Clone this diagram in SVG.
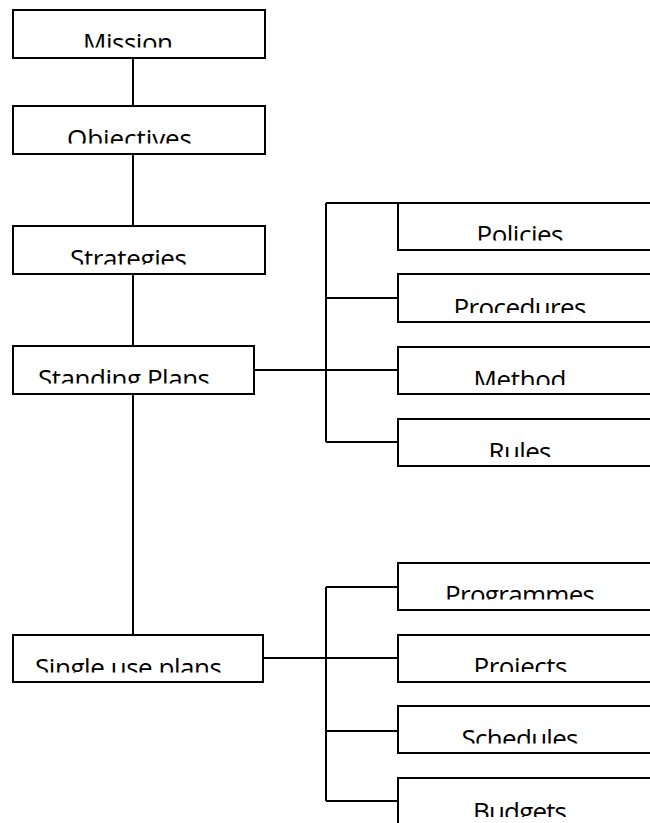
<svg xmlns="http://www.w3.org/2000/svg" width="650" height="823" viewBox="0 0 650 823">
<style>
.box{fill:#fff;stroke:#000;stroke-width:2}
.lbl{font-family:"Open Sans","Noto Sans",sans-serif;font-size:26px;fill:#000;text-anchor:middle}
.con{fill:none;stroke:#000;stroke-width:2}
</style>
<defs>
<clipPath id="c-mission"><rect x="0" y="0" width="650" height="47.5"/></clipPath>
<clipPath id="c-objectives"><rect x="0" y="100" width="650" height="43.5"/></clipPath>
<clipPath id="c-strategies"><rect x="0" y="220" width="650" height="44.5"/></clipPath>
<clipPath id="c-standing"><rect x="0" y="340" width="650" height="43.5"/></clipPath>
<clipPath id="c-single"><rect x="0" y="630" width="650" height="42.5"/></clipPath>
<clipPath id="c-policies"><rect x="0" y="200" width="650" height="40.5"/></clipPath>
<clipPath id="c-procedures"><rect x="0" y="270" width="650" height="43"/></clipPath>
<clipPath id="c-method"><rect x="0" y="340" width="650" height="45"/></clipPath>
<clipPath id="c-rules"><rect x="0" y="415" width="650" height="42"/></clipPath>
<clipPath id="c-programmes"><rect x="0" y="560" width="650" height="39.5"/></clipPath>
<clipPath id="c-projects"><rect x="0" y="630" width="650" height="42"/></clipPath>
<clipPath id="c-schedules"><rect x="0" y="700" width="650" height="43.5"/></clipPath>
<clipPath id="c-budgets"><rect x="0" y="775" width="650" height="42"/></clipPath>
</defs>

<g id="connectors">
<path class="con" d="M133 58V106M133 154V226M133 274V346M133 394V635"/>
<path class="con" d="M254 370H326M326 203V442M326 203H398M326 298H398M326 370H398M326 442H398"/>
<path class="con" d="M263 658H326M326 587V801M326 587H398M326 658H398M326 731H398M326 801H398"/>
</g>

<g id="mission"><rect class="box" x="13" y="10" width="252" height="48"/><text class="lbl" x="128" y="51.5" textLength="90" clip-path="url(#c-mission)">Mission</text></g>
<g id="objectives"><rect class="box" x="13" y="106" width="252" height="48"/><text class="lbl" x="129.5" y="147.5" textLength="125" clip-path="url(#c-objectives)">Objectives</text></g>
<g id="strategies"><rect class="box" x="13" y="226" width="252" height="48"/><text class="lbl" x="128.5" y="268" textLength="117" clip-path="url(#c-strategies)">Strategies</text></g>
<g id="standing-plans"><rect class="box" x="13" y="346" width="241" height="48"/><text class="lbl" x="124" y="387.5" textLength="172" clip-path="url(#c-standing)">Standing Plans</text></g>
<g id="single-use-plans"><rect class="box" x="13" y="635" width="250" height="47"/><text class="lbl" x="128.5" y="676.5" textLength="187" clip-path="url(#c-single)">Single use plans</text></g>

<g id="policies"><rect class="box" x="398" y="203" width="270" height="47"/><text class="lbl" x="520" y="244" textLength="87" clip-path="url(#c-policies)">Policies</text></g>
<g id="procedures"><rect class="box" x="398" y="274" width="270" height="48"/><text class="lbl" x="520" y="317" textLength="133" clip-path="url(#c-procedures)">Procedures</text></g>
<g id="method"><rect class="box" x="398" y="347" width="270" height="47"/><text class="lbl" x="520" y="389" textLength="93" clip-path="url(#c-method)">Method</text></g>
<g id="rules"><rect class="box" x="398" y="419" width="270" height="47"/><text class="lbl" x="520" y="461" textLength="63" clip-path="url(#c-rules)">Rules</text></g>

<g id="programmes"><rect class="box" x="398" y="563" width="270" height="47"/><text class="lbl" x="520" y="603.5" textLength="150" clip-path="url(#c-programmes)">Programmes</text></g>
<g id="projects"><rect class="box" x="398" y="635" width="270" height="47"/><text class="lbl" x="520.5" y="676" textLength="94" clip-path="url(#c-projects)">Projects</text></g>
<g id="schedules"><rect class="box" x="398" y="706" width="270" height="47"/><text class="lbl" x="520" y="747.5" textLength="117" clip-path="url(#c-schedules)">Schedules</text></g>
<g id="budgets"><rect class="box" x="398" y="778" width="270" height="60"/><text class="lbl" x="520" y="821" textLength="94" clip-path="url(#c-budgets)">Budgets</text></g>
</svg>
